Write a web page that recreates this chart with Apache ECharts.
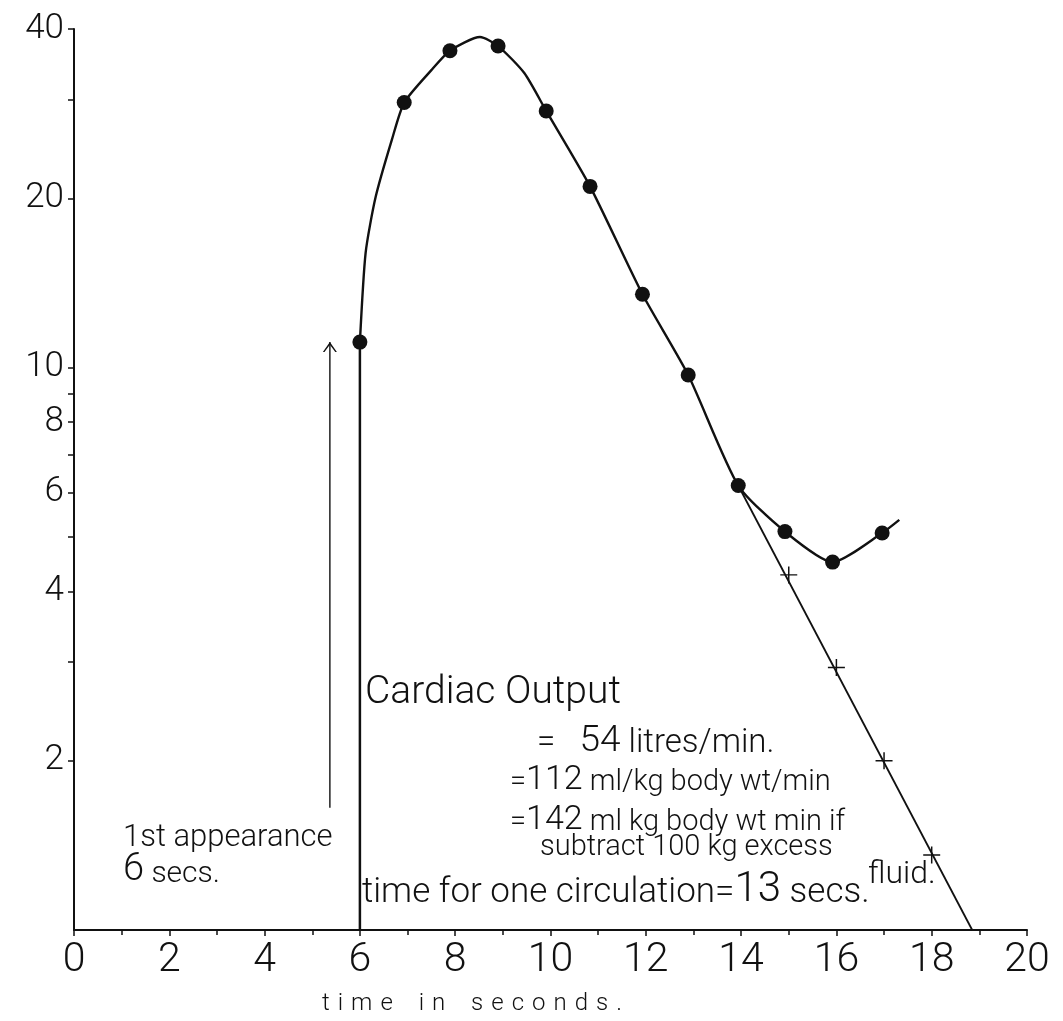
<!DOCTYPE html>
<html>
<head>
<meta charset="utf-8">
<script src="https://cdn.jsdelivr.net/npm/echarts@6/dist/echarts.min.js"></script>
<style>
  html, body { margin: 0; padding: 0; background: #fff; }
  #chart { width: 1063px; height: 1021px; }
</style>
</head>
<body>
<div id="chart"></div>
<script>
// Dye-dilution curve: dye concentration (log scale) against time after injection.

// Sampled concentrations (filled dots)
const sampleTimes = [6, 6.93, 7.89, 8.9, 9.91, 10.83, 11.93, 12.89, 13.94, 14.92, 15.92, 16.96];
const sampleConc  = [11.1, 29.6, 36.6, 37.3, 28.6, 21.0, 13.5, 9.7, 6.17, 5.11, 4.51, 5.08];

// Hand-fitted curve drawn through the samples
const curveTimes = [6, 6.12, 6.33, 6.67, 6.93, 7.5, 7.89, 8.52, 8.9, 9.45, 9.91, 10.83, 11.93, 12.89, 13.94, 14.92, 15.92, 16.96, 17.32];
const curveConc  = [11.1, 16.0, 20.1, 25.4, 29.6, 33.8, 36.6, 38.7, 37.3, 33.4, 28.6, 21.0, 13.5, 9.7, 6.17, 5.11, 4.51, 5.08, 5.36];

// Straight-line extrapolation of the down-slope (recirculation removed)
const extrapTimes = [13.94, 18.85];
const extrapConc  = [6.17, 1];
const crossTimes  = [15, 16, 17, 18];
const crossConc   = [4.28, 2.93, 2.0, 1.36];

// First appearance of dye, and the annotation arrow pointing at it
const firstAppearance = 6;
const arrowTime = 5.37;
const arrowConc = [1.65, 11.1];

// Axis ticks
const xMin = 0, xMax = 20, xLabelStep = 2;
const yMin = 1, yMax = 40;
const yLabelValues = [2, 4, 6, 8, 10, 20, 40];
const yTickValues  = [2, 3, 4, 5, 6, 7, 8, 9, 10, 20, 30, 40];

const lg = v => Math.log10(v);
const pairs = (xs, ys) => xs.map((x, i) => [x, lg(ys[i])]);

const FONT = 'Roboto';
const INK = '#111';

const chevron = 'path://M0,10 L7,0 L14,10 L12.4,10 L7,2.6 L1.6,10 Z';
const plus = 'path://M0,7.3 L16,7.3 L16,8.7 L0,8.7 Z M7.3,0 L8.7,0 L8.7,16 L7.3,16 Z';

function txt(x, baseline, text, size, rich) {
  const style = {
    text: text,
    x: 0, y: 0,
    fill: INK,
    fontFamily: FONT,
    fontWeight: 300,
    fontSize: size,
    align: 'left',
    verticalAlign: 'bottom'
  };
  if (rich) style.rich = rich;
  return { type: 'text', x: x, y: baseline + Math.round(size * 0.24), style: style, silent: true };
}
const tok = (size) => ({ fontSize: size, fontFamily: FONT, fontWeight: 300, fill: INK, verticalAlign: 'bottom' });

const axisTitle = 'time in seconds.';
const spacedTitle = axisTitle.split('').map(ch => ch === ' ' ? '{w| }' : '{c|' + ch + '}').join('');

const chart = echarts.init(document.getElementById('chart'), null, { renderer: 'canvas' });

chart.setOption({
  animation: false,
  backgroundColor: '#fff',
  grid: { left: 74, right: 36, top: 29, bottom: 91, containLabel: false, outerBoundsMode: 'none' },
  xAxis: {
    type: 'value',
    min: xMin, max: xMax, interval: xLabelStep,
    axisLine: { show: true, onZero: false, lineStyle: { color: INK, width: 2 } },
    axisTick: { show: true, length: 6, lineStyle: { color: INK, width: 1.5 } },
    minorTick: { show: true, splitNumber: 2, length: 5, lineStyle: { color: INK, width: 1.5 } },
    axisLabel: { color: INK, fontFamily: FONT, fontWeight: 300, fontSize: 41, margin: 10 },
    splitLine: { show: false }
  },
  yAxis: {
    type: 'value',
    min: lg(yMin), max: lg(yMax),
    axisLine: { show: true, onZero: false, lineStyle: { color: INK, width: 2 } },
    axisTick: { show: true, length: 6, customValues: yTickValues.map(lg), lineStyle: { color: INK, width: 1.5 } },
    axisLabel: {
      customValues: yLabelValues.map(lg),
      formatter: v => String(Math.round(Math.pow(10, v))),
      color: INK, fontFamily: FONT, fontWeight: 300, fontSize: 35, margin: 10
    },
    splitLine: { show: false }
  },
  series: [
    {
      name: 'first appearance',
      type: 'line',
      data: [[firstAppearance, lg(yMin)], [firstAppearance, lg(sampleConc[0])]],
      symbol: 'none',
      lineStyle: { color: INK, width: 2.5 },
      z: 3
    },
    {
      name: 'fitted curve',
      type: 'line',
      data: pairs(curveTimes, curveConc),
      smooth: 0.22,
      symbol: 'none',
      lineStyle: { color: INK, width: 2.4 },
      z: 3
    },
    {
      name: 'extrapolation',
      type: 'line',
      data: pairs(extrapTimes, extrapConc),
      symbol: 'none',
      lineStyle: { color: INK, width: 1.8 },
      z: 3
    },
    {
      name: 'samples',
      type: 'scatter',
      data: pairs(sampleTimes, sampleConc),
      symbol: 'circle',
      symbolSize: 15,
      itemStyle: { color: INK, opacity: 1 },
      z: 5
    },
    {
      name: 'extrapolated points',
      type: 'scatter',
      data: pairs(crossTimes, crossConc),
      symbol: plus,
      symbolSize: 17,
      itemStyle: { color: INK, opacity: 1 },
      z: 5
    },
    {
      name: 'arrow',
      type: 'line',
      symbol: 'none',
      showSymbol: true,
      data: [
        { value: [arrowTime, lg(arrowConc[0])] },
        { value: [arrowTime, lg(arrowConc[1])], symbol: chevron, symbolSize: [14, 10], symbolOffset: [0, '50%'] }
      ],
      lineStyle: { color: INK, width: 1.4 },
      itemStyle: { color: INK, opacity: 1 },
      z: 3
    }
  ],
  graphic: [
    txt(123, 847, '1st appearance', 31),
    txt(123, 882, '{b|6} {s|secs.}', 30, { b: tok(38), s: tok(30) }),
    txt(365, 704, 'Cardiac Output', 39),
    txt(537, 752, '{s|=}   {b|54} {m|litres/min.}', 33, { s: tok(33), b: tok(37), m: tok(33) }),
    txt(510, 790, '{s|=}{b|112} {s|ml/kg body wt/min}', 29, { s: tok(29), b: tok(34) }),
    txt(510, 830, '{s|=}{b|142} {s|ml kg body wt min if}', 29, { s: tok(29), b: tok(34) }),
    txt(540, 855, 'subtract 100 kg excess', 29),
    txt(868, 883, 'fluid.', 32),
    txt(362, 903, '{s|time for one circulation=}{b|13} {s|secs.}', 35, { s: tok(35), b: tok(42) }),
    txt(318, 1010, spacedTitle, 24, {
      c: Object.assign(tok(24), { padding: [0, 4] }),
      w: Object.assign(tok(24), { padding: [0, 6] })
    })
  ]
});
</script>
</body>
</html>
